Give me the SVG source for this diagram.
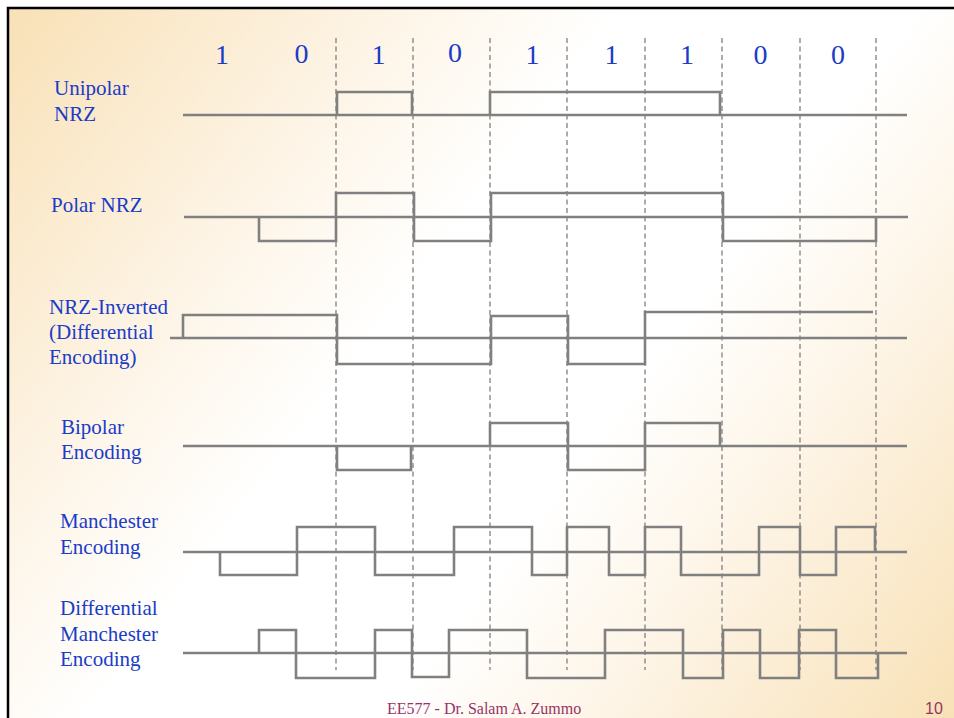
<svg xmlns="http://www.w3.org/2000/svg" width="954" height="718" viewBox="0 0 954 718">
<defs>
<linearGradient id="bg" gradientUnits="userSpaceOnUse" x1="0" y1="0" x2="954" y2="718">
<stop offset="0" stop-color="#F8E0B4"/>
<stop offset="0.25" stop-color="#FDF3E3"/>
<stop offset="0.42" stop-color="#FFFFFF"/>
<stop offset="0.62" stop-color="#FFFFFF"/>
<stop offset="0.78" stop-color="#FDF3E3"/>
<stop offset="1" stop-color="#F8E1B6"/>
</linearGradient>
<style>
.w{fill:none;stroke:#808080;stroke-width:2.6;stroke-linejoin:miter}
.d{fill:none;stroke:#808080;stroke-width:1.3;stroke-dasharray:5 3.5}
.lbl{font-family:"Liberation Serif","Times New Roman",serif;font-size:21px;fill:#1A3CC8}
.bit{font-family:"Liberation Serif","Times New Roman",serif;font-size:28px;fill:#1A3CC8;text-anchor:middle}
.ft{font-family:"Liberation Serif","Times New Roman",serif;font-size:16px;fill:#993366}
.pg{font-family:"Liberation Sans",Arial,sans-serif;font-size:16px;fill:#993366}
</style>
</defs>
<rect x="0" y="0" width="954" height="718" fill="#FFFFFF"/>
<rect x="8" y="8" width="960" height="720" fill="url(#bg)" stroke="#000000" stroke-width="2.5"/>

<g id="bits">
<text class="bit" x="222" y="64">1</text>
<text class="bit" x="301.5" y="63">0</text>
<text class="bit" x="378.5" y="64">1</text>
<text class="bit" x="455" y="62">0</text>
<text class="bit" x="532.5" y="64">1</text>
<text class="bit" x="611.5" y="64">1</text>
<text class="bit" x="687" y="64">1</text>
<text class="bit" x="760.5" y="64">0</text>
<text class="bit" x="838" y="64">0</text>
</g>

<g id="connectors">
<path class="d" d="M336,38 V670 M413,38 V670 M490,38 V670 M567,38 V670 M645,38 V670 M722,38 V670 M800,38 V670 M876,38 V670"/>
</g>

<g id="unipolar-nrz">
<text class="lbl" x="54" y="95">Unipolar</text>
<text class="lbl" x="54" y="121">NRZ</text>
<path class="w" d="M183,115 H907"/>
<path class="w" d="M337,115 V92 H412 V115 M490,115 V92 H720 V115"/>
</g>

<g id="polar-nrz">
<text class="lbl" x="51" y="212">Polar NRZ</text>
<path class="w" d="M184,217 H908"/>
<path class="w" d="M259,217 V241 H336 V193 H414 V241 H491 V193 H723 V241 H876 V217"/>
</g>

<g id="nrz-inverted">
<text class="lbl" x="49" y="314">NRZ-Inverted</text>
<text class="lbl" x="49" y="339">(Differential</text>
<text class="lbl" x="49" y="364">Encoding)</text>
<path class="w" d="M170,338 H907"/>
<path class="w" d="M183,338 V315 H337 V364 H491 V316 H568 V364 H645 V312 H873"/>
</g>

<g id="bipolar">
<text class="lbl" x="61" y="434">Bipolar</text>
<text class="lbl" x="61" y="459">Encoding</text>
<path class="w" d="M183,446 H907"/>
<path class="w" d="M337,446 V470 H411 V446 M490,446 V423 H568 V470 H645 V423 H720 V446"/>
</g>

<g id="manchester">
<text class="lbl" x="60" y="528">Manchester</text>
<text class="lbl" x="60" y="554">Encoding</text>
<path class="w" d="M183,552 H907"/>
<path class="w" d="M220,552 V575 H297 V527 H375 V575 H454 V527 H532 V575 H567 V527 H609 V575 H645 V527 H681 V575 H759 V527 H800 V575 H836 V527 H875 V552"/>
</g>

<g id="differential-manchester">
<text class="lbl" x="60" y="615">Differential</text>
<text class="lbl" x="60" y="641">Manchester</text>
<text class="lbl" x="60" y="666">Encoding</text>
<path class="w" d="M183,653 H907"/>
<path class="w" d="M259,653 V630 H296 V678 H375 V630 H412 V677 H449 V630 H527 V678 H605 V630 H683 V678 H723 V630 H760 V678 H799 V630 H836 V678 H878 V653"/>
</g>

<g id="footer">
<text class="ft" x="387" y="714">EE577 - Dr. Salam A. Zummo</text>
<text class="pg" x="925" y="714">10</text>
</g>
</svg>
